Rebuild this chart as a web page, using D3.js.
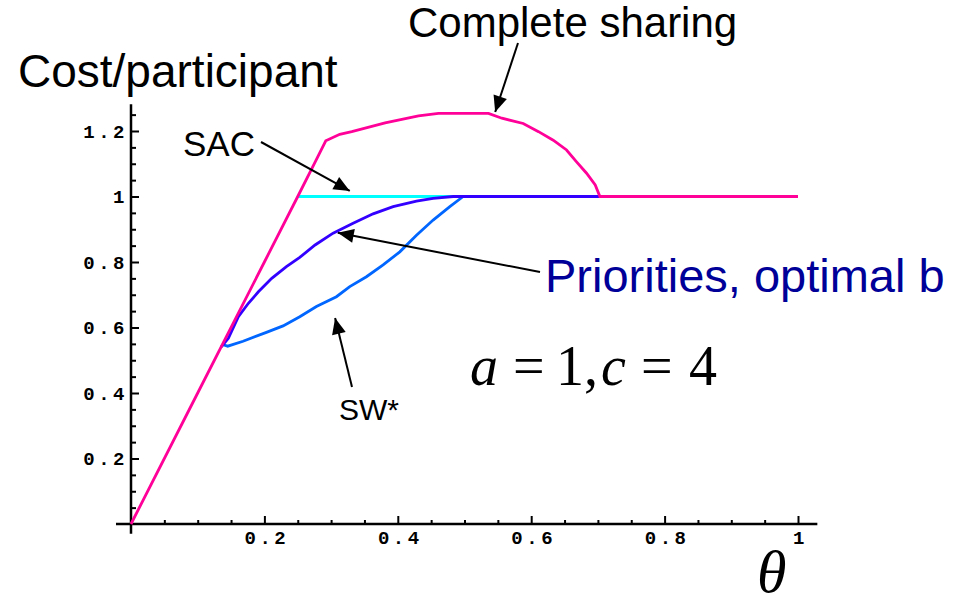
<!DOCTYPE html>
<html>
<head>
<meta charset="utf-8">
<script src="https://cdn.jsdelivr.net/npm/d3@7"></script>
<style>
  body { margin: 0; background: #fff; }
  svg { display: block; }
</style>
</head>
<body>
<div class="container"></div>
<script>
// curves (theta, cost/participant)
const sharingTheta = [0, 0.1, 0.2, 0.25, 0.276, 0.292, 0.313, 0.331, 0.381, 0.431, 0.461, 0.536, 0.556, 0.588, 0.611, 0.633, 0.653, 0.668, 0.683, 0.696, 0.703, 1];
const sharingCost  = [0, 0.4, 0.8, 1.0, 1.105, 1.17, 1.19, 1.198, 1.225, 1.246, 1.254, 1.254, 1.239, 1.223, 1.198, 1.172, 1.142, 1.106, 1.071, 1.035, 1.0, 1.0];

const sacTheta = [0.25, 0.483];
const sacCost  = [1.0, 1.0];

const prioTheta = [0.135, 0.146, 0.161, 0.176, 0.191, 0.211, 0.233, 0.253, 0.276, 0.303, 0.333, 0.363, 0.393, 0.428, 0.453, 0.483, 1];
const prioCost  = [0.54, 0.567, 0.633, 0.674, 0.709, 0.75, 0.786, 0.814, 0.852, 0.888, 0.918, 0.947, 0.969, 0.986, 0.994, 1.0, 1.0];

const swTheta = [0.137, 0.145, 0.168, 0.203, 0.228, 0.253, 0.278, 0.308, 0.328, 0.353, 0.378, 0.403, 0.428, 0.453, 0.478, 0.498];
const swCost  = [0.548, 0.543, 0.558, 0.585, 0.605, 0.633, 0.664, 0.694, 0.725, 0.755, 0.791, 0.831, 0.882, 0.928, 0.969, 1.0];

const xTicks = [0.2, 0.4, 0.6, 0.8, 1];
const xTickLabels = ['0.2', '0.4', '0.6', '0.8', '1'];
const yTicks = [0.2, 0.4, 0.6, 0.8, 1, 1.2];
const yTickLabels = ['0.2', '0.4', '0.6', '0.8', '1', '1.2'];
const xMinor = [0.05, 0.1, 0.15, 0.25, 0.3, 0.35, 0.45, 0.5, 0.55, 0.65, 0.7, 0.75, 0.85, 0.9, 0.95];
const yMinor = [0.05, 0.1, 0.15, 0.25, 0.3, 0.35, 0.45, 0.5, 0.55, 0.65, 0.7, 0.75, 0.85, 0.9, 0.95, 1.05, 1.1, 1.15, 1.25];

const width = 953, height = 599;

const svg = d3.select('.container')
    .append('svg')
    .attr('width', width)
    .attr('height', height);

const x = d3.scaleLinear().domain([0, 1]).range([131, 798]);
const y = d3.scaleLinear().domain([0, 1.2]).range([524, 131]);

// axes (Mathematica style: ticks inside, axes crossing at origin)
const tickFont = g => g.selectAll('text')
    .attr('font-family', '"Liberation Mono", "DejaVu Sans Mono", monospace')
    .attr('font-weight', 'bold')
    .attr('font-size', 19)
    .attr('letter-spacing', 3.5)
    .attr('fill', '#000');

svg.append('g')
    .attr('transform', `translate(0,${y(0)})`)
    .call(d3.axisBottom(x).tickValues(xMinor).tickSize(-4).tickFormat(''))
    .call(g => g.select('.domain').remove())
    .call(g => g.selectAll('line').attr('stroke-width', 2));

svg.append('g')
    .attr('transform', `translate(0,${y(0)})`)
    .call(d3.axisBottom(x).tickValues(xTicks).tickSize(-8).tickPadding(7)
        .tickFormat((d, i) => xTickLabels[i]))
    .call(g => g.select('.domain').remove())
    .call(g => g.selectAll('line').attr('stroke-width', 2))
    .call(tickFont)
    .call(g => g.selectAll('text').attr('dx', 2));

svg.append('g')
    .attr('transform', `translate(${x(0)},0)`)
    .call(d3.axisLeft(y).tickValues(yMinor).tickSize(-5).tickFormat(''))
    .call(g => g.select('.domain').remove())
    .call(g => g.selectAll('line').attr('stroke-width', 2));

svg.append('g')
    .attr('transform', `translate(${x(0)},0)`)
    .call(d3.axisLeft(y).tickValues(yTicks).tickSize(-8).tickPadding(3)
        .tickFormat((d, i) => yTickLabels[i]))
    .call(g => g.select('.domain').remove())
    .call(g => g.selectAll('line').attr('stroke-width', 2))
    .call(tickFont);

// axis lines run a little past the origin
svg.append('line')
    .attr('x1', x(-0.0225)).attr('x2', x(1.029))
    .attr('y1', y(0)).attr('y2', y(0))
    .attr('stroke', '#000').attr('stroke-width', 2.5);
svg.append('line')
    .attr('x1', x(0)).attr('x2', x(0))
    .attr('y1', y(-0.03)).attr('y2', y(1.282))
    .attr('stroke', '#000').attr('stroke-width', 2.5);

// curves
const line = d3.line()
    .x(d => x(d[0]))
    .y(d => y(d[1]));

const series = [
    {theta: sacTheta, cost: sacCost, color: '#00FFFF'},
    {theta: swTheta, cost: swCost, color: '#0066FF'},
    {theta: prioTheta, cost: prioCost, color: '#3300FF'},
    {theta: sharingTheta, cost: sharingCost, color: '#FF0099'}
];

svg.append('g')
    .selectAll('path')
    .data(series)
    .join('path')
    .attr('fill', 'none')
    .attr('stroke', d => d.color)
    .attr('stroke-width', 2.8)
    .attr('d', d => line(d.theta.map((t, i) => [t, d.cost[i]])));

// arrow heads
svg.append('defs').append('marker')
    .attr('id', 'head')
    .attr('markerUnits', 'userSpaceOnUse')
    .attr('viewBox', '-17 -8 18 16')
    .attr('markerWidth', 18).attr('markerHeight', 16)
    .attr('refX', 0).attr('refY', 0)
    .attr('orient', 'auto')
    .append('path')
    .attr('d', 'M0,0L-16,-7L-16,7Z')
    .attr('fill', '#000');

const arrow = (x1, y1, tipTheta, tipCost) => svg.append('line')
    .attr('x1', x1).attr('y1', y1)
    .attr('x2', x(tipTheta)).attr('y2', y(tipCost))
    .attr('stroke', '#000')
    .attr('stroke-width', 2)
    .attr('marker-end', 'url(#head)');

arrow(518, 43, 0.546, 1.258);
arrow(261, 142, 0.328, 1.017);
arrow(540, 272, 0.31, 0.889);
arrow(352, 387, 0.306, 0.629);

const sans = '"Liberation Sans", Arial, sans-serif';
const serif = '"Liberation Serif", "Times New Roman", serif';

const label = (tx, ty, size, str, color) => svg.append('text')
    .attr('x', tx).attr('y', ty)
    .attr('font-family', sans)
    .attr('font-size', size)
    .attr('fill', color || '#000')
    .text(str);

label(18, 87, 46, 'Cost/participant');
label(408, 37, 42, 'Complete sharing');
label(183, 156, 35, 'SAC');
label(545, 292, 47, 'Priorities, optimal b', '#000099');
label(339, 420, 30, 'SW*');

// a = 1, c = 4
const eq = svg.append('text')
    .attr('y', 385)
    .attr('font-family', serif)
    .attr('font-size', 56)
    .attr('fill', '#000');
eq.append('tspan').attr('x', 470).attr('font-style', 'italic').text('a');
eq.append('tspan').attr('x', 513).text('=');
eq.append('tspan').attr('x', 556).text('1,');
eq.append('tspan').attr('x', 601).attr('font-style', 'italic').text('c');
eq.append('tspan').attr('x', 641).text('=');
eq.append('tspan').attr('x', 689).text('4');

svg.append('text')
    .attr('x', 757).attr('y', 592)
    .attr('font-family', serif)
    .attr('font-style', 'italic')
    .attr('font-size', 60)
    .attr('fill', '#000')
    .text('θ');
</script>
</body>
</html>
